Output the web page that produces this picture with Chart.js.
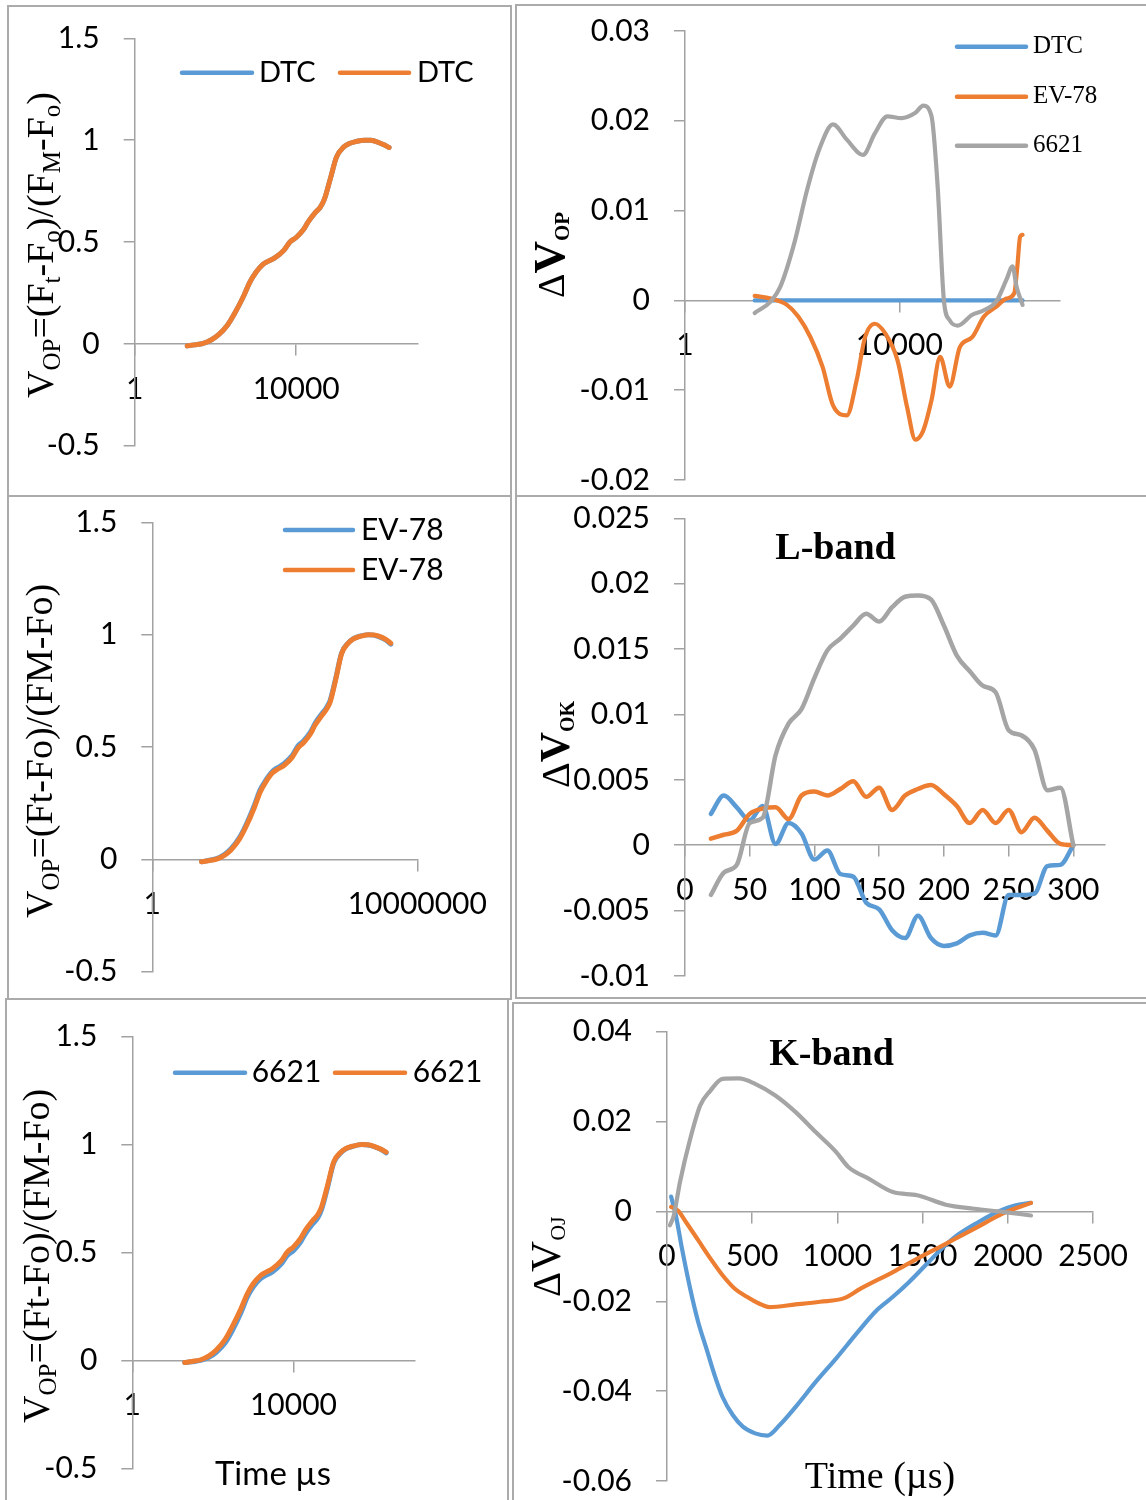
<!DOCTYPE html>
<html><head><meta charset="utf-8">
<script src="https://cdn.jsdelivr.net/npm/chart.js@4/dist/chart.umd.min.js"></script>
<style>
html,body{margin:0;padding:0;background:#fff;}
#page{position:relative;width:1146px;height:1500px;overflow:hidden;background:#fff;}
.frame{position:absolute;border:2px solid #ababab;box-sizing:border-box;pointer-events:none;}
</style></head><body><div id="page"></div>
<script>
// ---------- DATA ----------
// Time axis (µs) for the normalised OJIP curves
const OJIP_T = [20,30,50,80,120,200,300,500,700,1000,1500,2000,3000,5000,7000,10000,15000,20000,30000,40000,50000,70000,100000,150000,200000,300000,500000,700000,1000000,1500000,2000000];
// Panel 1: DTC (two overlapping replicates)
const DTC_VOP_A = [-0.010,-0.005,0.002,0.020,0.045,0.093,0.150,0.235,0.300,0.350,0.390,0.405,0.423,0.460,0.500,0.522,0.560,0.600,0.645,0.672,0.710,0.810,0.918,0.966,0.982,0.993,1.000,0.999,0.992,0.977,0.964];
const DTC_VOP_B = [-0.010,-0.005,0.002,0.020,0.045,0.093,0.150,0.235,0.300,0.350,0.390,0.405,0.423,0.460,0.500,0.522,0.560,0.600,0.645,0.672,0.710,0.810,0.918,0.966,0.982,0.993,1.000,0.999,0.992,0.977,0.964];
// Panel 3: EV-78
const EV78_VOP_A = [-0.011,-0.005,0.003,0.021,0.047,0.097,0.154,0.242,0.308,0.353,0.392,0.407,0.426,0.463,0.504,0.528,0.566,0.606,0.648,0.676,0.708,0.806,0.918,0.963,0.981,0.993,1.000,0.998,0.990,0.975,0.958];
const EV78_VOP_B = [-0.011,-0.006,0.001,0.018,0.042,0.090,0.146,0.232,0.298,0.345,0.385,0.400,0.418,0.455,0.495,0.520,0.558,0.598,0.640,0.668,0.700,0.800,0.915,0.962,0.980,0.992,1.000,0.999,0.992,0.978,0.962];
// Panel 5: 6621
const S6621_VOP_A = [-0.010,-0.006,0.000,0.014,0.036,0.080,0.136,0.222,0.290,0.340,0.378,0.393,0.410,0.447,0.486,0.508,0.548,0.588,0.632,0.660,0.700,0.800,0.915,0.962,0.980,0.992,1.000,0.998,0.991,0.977,0.962];
const S6621_VOP_B = [-0.010,-0.005,0.003,0.021,0.047,0.096,0.155,0.240,0.305,0.355,0.392,0.407,0.425,0.462,0.502,0.526,0.565,0.605,0.648,0.675,0.712,0.810,0.920,0.965,0.982,0.993,1.000,0.999,0.992,0.978,0.965];
const VOP_YTICKS = [-0.5,0,0.5,1,1.5];
const VOP_XTICKS_SHORT = [1,10000];
const VOP_XTICKS_LONG = [1,10000000];
const LOG_XMAX = 10000000;

// Panel 2: ΔV_OP
const DVOP_DTC_T = OJIP_T;
const DVOP_DTC = [0,0,0,0,0,0,0,0,0,0,0,0,0,0,0,0,0,0,0,0,0,0,0,0,0,0,0,0,0,0,0];
const DVOP_EV78_T = [20,40,80,130,220,370,580,1050,1600,2300,3500,5500,9300,14000,20000,28000,40000,58000,87000,135000,230000,380000,650000,1000000,1400000,1600000,1800000,2000000];
const DVOP_EV78 = [0.0005,0.0002,-0.0005,-0.0018,-0.0041,-0.0074,-0.0117,-0.0128,-0.0089,-0.0041,-0.0026,-0.0037,-0.0067,-0.0119,-0.0155,-0.0145,-0.0111,-0.0063,-0.0096,-0.0052,-0.0041,-0.0018,-0.0007,0.0002,0.0008,0.0038,0.0071,0.0073];
const DVOP_6621_T = [20,40,60,110,190,320,580,1050,2100,3500,6000,11000,20000,28000,40000,52000,68000,87000,123000,230000,380000,650000,1000000,1300000,1550000,2000000];
const DVOP_6621 = [-0.0014,-0.0001,0.0015,0.0064,0.0123,0.0168,0.0196,0.0179,0.0162,0.0186,0.0205,0.0203,0.0209,0.0217,0.0205,0.0127,0.0000,-0.0022,-0.0028,-0.0016,-0.0011,-0.0001,0.0023,0.0038,0.0015,-0.0005];
const DVOP_YTICKS = [-0.02,-0.01,0,0.01,0.02,0.03];

// Panel 4: L-band ΔV_OK
const L_T = [20,30,40,50,60,70,80,90,100,110,120,130,140,150,160,170,180,190,200,210,220,230,240,250,260,270,280,290,300];
const L_DTC = [0.0024,0.0038,0.0029,0.0019,0.0030,0.0001,0.0017,0.0009,-0.0011,-0.0004,-0.0022,-0.0024,-0.0044,-0.0049,-0.0065,-0.0071,-0.0054,-0.0071,-0.0077,-0.0075,-0.0069,-0.0067,-0.0069,-0.0038,-0.0038,-0.0037,-0.0016,-0.0015,0];
const L_EV78 = [0.0005,0.0008,0.0011,0.0024,0.0028,0.0029,0.0020,0.0038,0.0041,0.0038,0.0043,0.0049,0.0037,0.0044,0.0027,0.0038,0.0043,0.0046,0.0039,0.0030,0.0017,0.0027,0.0017,0.0027,0.0010,0.0021,0.0011,0.0001,0];
const L_6621 = [-0.0038,-0.0021,-0.0015,0.0017,0.0021,0.0069,0.0093,0.0104,0.0128,0.0149,0.0158,0.0168,0.0177,0.0171,0.0182,0.0190,0.0191,0.0188,0.0168,0.0145,0.0133,0.0122,0.0117,0.0088,0.0084,0.0073,0.0042,0.0044,0];
const L_XTICKS = [0,50,100,150,200,250,300];
const L_XMAX = 324;
const L_YTICKS = [-0.01,-0.005,0,0.005,0.01,0.015,0.02,0.025];

// Panel 6: K-band ΔV_OJ
const K_DTC_T = [24,52,88,136,183,231,279,326,386,445,517,588,660,755,874,993,1112,1231,1326,1421,1517,1612,1707,1826,1945,2041,2136];
const K_DTC = [0.0033,-0.0009,-0.0083,-0.0172,-0.0246,-0.0305,-0.0364,-0.0413,-0.0453,-0.0479,-0.0494,-0.0499,-0.0476,-0.0435,-0.0379,-0.0327,-0.0272,-0.0220,-0.0190,-0.0157,-0.0120,-0.0083,-0.0052,-0.0024,0.0000,0.0013,0.0019];
const K_EV78_T = [24,64,112,183,255,326,398,469,540,600,755,898,1040,1136,1326,1469,1636,1802,1969,2136];
const K_EV78 = [0.0010,0.0002,-0.0024,-0.0064,-0.0105,-0.0142,-0.0172,-0.0190,-0.0205,-0.0213,-0.0207,-0.0201,-0.0193,-0.0172,-0.0135,-0.0105,-0.0072,-0.0039,-0.0005,0.0019];
const K_6621_T = [17,40,76,136,195,255,326,421,517,636,755,874,993,1064,1183,1326,1469,1636,1802,1969,2136];
const K_6621 = [-0.0031,-0.0009,0.0065,0.0161,0.0236,0.0269,0.0295,0.0296,0.0284,0.0258,0.0221,0.0176,0.0132,0.0099,0.0073,0.0043,0.0036,0.0015,0.0006,-0.0001,-0.0009];
const K_XTICKS = [0,500,1000,1500,2000,2500];
const K_YTICKS = [-0.06,-0.04,-0.02,0,0.02,0.04];

// ---------- STYLE ----------
const BLUE = '#5B9BD5', ORANGE = '#ED7D31', GRAY = '#A5A5A5';
const AXIS = '#a2a2a2';
const SANS = 'Lato, "Liberation Sans", sans-serif';
const SERIF = '"Liberation Serif", "Times New Roman", serif';
Chart.defaults.color = '#000';

const page = document.getElementById('page');
const fmt = v => String(+(+v).toFixed(6));

function drawRich(ctx, it, ox, oy) {
  ctx.save();
  ctx.translate(it.x - ox, it.y - oy);
  if (it.rot) ctx.rotate(it.rot * Math.PI / 180);
  ctx.fillStyle = '#000';
  ctx.textBaseline = 'alphabetic';
  ctx.textAlign = 'left';
  let total = 0;
  it.segs.forEach(s => { ctx.font = s.f; total += ctx.measureText(s.t).width; });
  let x = it.align === 'center' ? -total / 2 : 0;
  it.segs.forEach(s => { ctx.font = s.f; ctx.fillText(s.t, x, s.dy || 0); x += ctx.measureText(s.t).width; });
  ctx.restore();
}

function decor(p) {
  return {
    id: 'decor_' + p.id,
    afterDraw(chart) {
      const ctx = chart.ctx, ox = p.box.x, oy = p.box.y;
      (p.texts || []).forEach(it => drawRich(ctx, it, ox, oy));
      if (p.legend) {
        const L = p.legend;
        chart.data.datasets.forEach((ds, i) => {
          const e = L.items[i];
          ctx.save();
          ctx.strokeStyle = ds.borderColor;
          ctx.lineWidth = L.lw;
          ctx.lineCap = 'round';
          ctx.beginPath();
          ctx.moveTo(e.x1 - ox, e.y - oy);
          ctx.lineTo(e.x2 - ox, e.y - oy);
          ctx.stroke();
          ctx.fillStyle = '#000';
          ctx.font = L.font;
          ctx.textBaseline = 'middle';
          ctx.textAlign = 'left';
          ctx.fillText(ds.label, e.tx - ox, e.y - oy + (L.dy || 0));
          ctx.restore();
        });
      }
    }
  };
}

function makePanel(p) {
  const B = p.box, A = p.area;
  const cv = document.createElement('canvas');
  cv.width = B.w; cv.height = B.h;
  cv.style.cssText = `position:absolute;left:${B.x}px;top:${B.y}px;width:${B.w}px;height:${B.h}px;`;
  page.appendChild(cv);
  const gridOpt = {display: true, drawOnChartArea: false, drawTicks: true, tickLength: 11, color: AXIS, lineWidth: 1.5};
  const borderOpt = {display: true, color: AXIS, width: 1.5};
  const tickFont = {family: SANS, size: 30};
  const xt = p.xticks, yt = p.yticks;
  new Chart(cv, {
    type: 'line',
    data: {
      datasets: p.series.map(s => ({
        label: s.label,
        data: s.x.map((x, j) => ({x: x, y: s.y[j]})),
        borderColor: s.color, backgroundColor: s.color,
        borderWidth: p.lw, pointRadius: 0, pointHoverRadius: 0,
        cubicInterpolationMode: 'monotone', fill: false, order: s.order,
        borderCapStyle: 'round', borderJoinStyle: 'round'
      }))
    },
    options: {
      responsive: false, animation: false, devicePixelRatio: 1, events: [],
      elements: {line: {borderWidth: p.lw}},
      layout: {padding: {left: 0, top: A.t - B.y, right: B.x + B.w - A.r, bottom: B.y + B.h - A.b}},
      plugins: {legend: {display: false}, tooltip: {enabled: false}, title: {display: false}},
      scales: {
        x: {
          type: p.xtype, position: {y: 0}, min: xt[0] === 0 ? 0 : xt[0], max: p.xmax,
          afterBuildTicks: s => { s.ticks = xt.map(v => ({value: v})); },
          afterFit: s => { s.height = 0; s.paddingLeft = 0; s.paddingRight = 0; s.paddingTop = 0; s.paddingBottom = 0; },
          grid: gridOpt, border: borderOpt,
          ticks: {autoSkip: false, maxRotation: 0, minRotation: 0, padding: 16, font: tickFont, color: '#000',
                  stepSize: p.xtype === 'linear' ? xt[1] - xt[0] : undefined,
                  callback: v => String(v)}
        },
        y: {
          type: 'linear', position: 'left', min: yt[0], max: yt[yt.length - 1],
          afterBuildTicks: s => { s.ticks = yt.map(v => ({value: v})); },
          afterFit: s => { s.width = A.l - B.x; s.paddingLeft = 0; s.paddingRight = 0; s.paddingTop = 0; s.paddingBottom = 0; },
          grid: gridOpt, border: borderOpt,
          ticks: {padding: 24, font: tickFont, color: '#000', stepSize: yt[1] - yt[0], callback: v => fmt(v)}
        }
      }
    },
    plugins: [decor(p)]
  });
}

const R = (px) => `normal ${px}px ${SERIF}`;
const RB = (px) => `bold ${px}px ${SERIF}`;
const S = (px) => `normal ${px}px ${SANS}`;

function vopTitleFull(x, y) {
  const m = R(38), s = R(25), d = 7;
  return {x: x, y: y, rot: -90, segs: [
    {t: 'V', f: m}, {t: 'OP', f: s, dy: d}, {t: '=(F', f: m}, {t: 't', f: s, dy: d},
    {t: '-F', f: m}, {t: 'o', f: s, dy: d}, {t: ')/(F', f: m}, {t: 'M', f: s, dy: d},
    {t: '-F', f: m}, {t: 'o', f: s, dy: d}, {t: ')', f: m}]};
}
function vopTitleFlat(x, y) {
  const m = R(38), s = R(25), d = 7;
  return {x: x, y: y, rot: -90, segs: [{t: 'V', f: m}, {t: 'OP', f: s, dy: d}, {t: '=(Ft-Fo)/(FM-Fo)', f: m}]};
}

const panels = [
  { id: 1, box: {x: 7, y: 5, w: 505, h: 492}, area: {l: 134.7, t: 38.3, r: 417.3, b: 445.7},
    xtype: 'logarithmic', xmax: LOG_XMAX, xticks: VOP_XTICKS_SHORT, yticks: VOP_YTICKS, lw: 5,
    series: [
      {label: 'DTC', color: BLUE, x: OJIP_T, y: DTC_VOP_A, order: 1},
      {label: 'DTC', color: ORANGE, x: OJIP_T, y: DTC_VOP_B, order: 0}],
    legend: {font: S(29), lw: 4.5, items: [{x1: 182, x2: 252, y: 72.7, tx: 259}, {x1: 340, x2: 409, y: 72.7, tx: 417}]},
    texts: [vopTitleFull(53, 398)] },
  { id: 2, box: {x: 515, y: 4, w: 631, h: 493}, area: {l: 685, t: 31, r: 1060, b: 480},
    xtype: 'logarithmic', xmax: LOG_XMAX, xticks: VOP_XTICKS_SHORT, yticks: DVOP_YTICKS, lw: 4.2,
    series: [
      {label: 'DTC', color: BLUE, x: DVOP_DTC_T, y: DVOP_DTC, order: 2},
      {label: 'EV-78', color: ORANGE, x: DVOP_EV78_T, y: DVOP_EV78, order: 1},
      {label: '6621', color: GRAY, x: DVOP_6621_T, y: DVOP_6621, order: 0}],
    legend: {font: R(25), lw: 4.5, items: [{x1: 957, x2: 1026, y: 46.7, tx: 1033}, {x1: 957, x2: 1026, y: 96.7, tx: 1033}, {x1: 957, x2: 1026, y: 145.7, tx: 1033}]},
    texts: [{x: 564, y: 298, rot: -90, segs: [{t: 'Δ', f: R(38)}, {t: 'V', f: RB(45)}, {t: 'OP', f: RB(21), dy: 5}]}] },
  { id: 3, box: {x: 7, y: 495, w: 505, h: 505}, area: {l: 152.3, t: 522.3, r: 417.3, b: 971.7},
    xtype: 'logarithmic', xmax: LOG_XMAX, xticks: VOP_XTICKS_LONG, yticks: VOP_YTICKS, lw: 5,
    series: [
      {label: 'EV-78', color: BLUE, x: OJIP_T, y: EV78_VOP_A, order: 1},
      {label: 'EV-78', color: ORANGE, x: OJIP_T, y: EV78_VOP_B, order: 0}],
    legend: {font: S(30), lw: 4.5, items: [{x1: 285, x2: 353, y: 530, tx: 361}, {x1: 285, x2: 353, y: 570, tx: 361}]},
    texts: [vopTitleFlat(52, 918)] },
  { id: 4, box: {x: 515, y: 495, w: 631, h: 504}, area: {l: 685, t: 518.3, r: 1104.4, b: 976},
    xtype: 'linear', xmax: L_XMAX, xticks: L_XTICKS, yticks: L_YTICKS, lw: 4.5,
    series: [
      {label: 'DTC', color: BLUE, x: L_T, y: L_DTC, order: 2},
      {label: 'EV-78', color: ORANGE, x: L_T, y: L_EV78, order: 1},
      {label: '6621', color: GRAY, x: L_T, y: L_6621, order: 0}],
    texts: [
      {x: 835.5, y: 559, align: 'center', segs: [{t: 'L-band', f: RB(38)}]},
      {x: 569, y: 788, rot: -90, segs: [{t: 'Δ', f: R(40)}, {t: 'V', f: RB(42)}, {t: 'OK', f: RB(20), dy: 5}]}] },
  { id: 5, box: {x: 5, y: 998, w: 504, h: 502}, area: {l: 132.3, t: 1036.7, r: 414.3, b: 1468.3},
    xtype: 'logarithmic', xmax: LOG_XMAX, xticks: VOP_XTICKS_SHORT, yticks: VOP_YTICKS, lw: 5,
    series: [
      {label: '6621', color: BLUE, x: OJIP_T, y: S6621_VOP_A, order: 1},
      {label: '6621', color: ORANGE, x: OJIP_T, y: S6621_VOP_B, order: 0}],
    legend: {font: S(30), lw: 4.5, items: [{x1: 175, x2: 245, y: 1072.7, tx: 251.7}, {x1: 335, x2: 405, y: 1072.7, tx: 412.7}]},
    texts: [vopTitleFlat(49, 1423),
      {x: 273, y: 1485, align: 'center', segs: [{t: 'Time µs', f: S(33)}]}] },
  { id: 6, box: {x: 512, y: 1002, w: 634, h: 498}, area: {l: 667, t: 1031.7, r: 1093, b: 1481},
    xtype: 'linear', xmax: 2500, xticks: K_XTICKS, yticks: K_YTICKS, lw: 4.2,
    series: [
      {label: 'DTC', color: BLUE, x: K_DTC_T, y: K_DTC, order: 2},
      {label: 'EV-78', color: ORANGE, x: K_EV78_T, y: K_EV78, order: 1},
      {label: '6621', color: GRAY, x: K_6621_T, y: K_6621, order: 0}],
    texts: [
      {x: 831.5, y: 1065, align: 'center', segs: [{t: 'K-band', f: RB(38)}]},
      {x: 880, y: 1488, align: 'center', segs: [{t: 'Time (µs)', f: R(38)}]},
      {x: 560, y: 1297, rot: -90, segs: [{t: 'Δ', f: R(39)}, {t: 'V', f: R(43)}, {t: 'OJ', f: R(22), dy: 5}]}] }
];

panels.forEach(makePanel);

// panel frames
[[7,5,505,492],[515,4,640,493],[7,495,505,505],[515,495,640,504],[5,998,504,510],[512,1002,640,510]].forEach(f => {
  const d = document.createElement('div');
  d.className = 'frame';
  d.style.left = f[0] + 'px'; d.style.top = f[1] + 'px';
  d.style.width = f[2] + 'px'; d.style.height = f[3] + 'px';
  page.appendChild(d);
});
</script>
</body></html>
